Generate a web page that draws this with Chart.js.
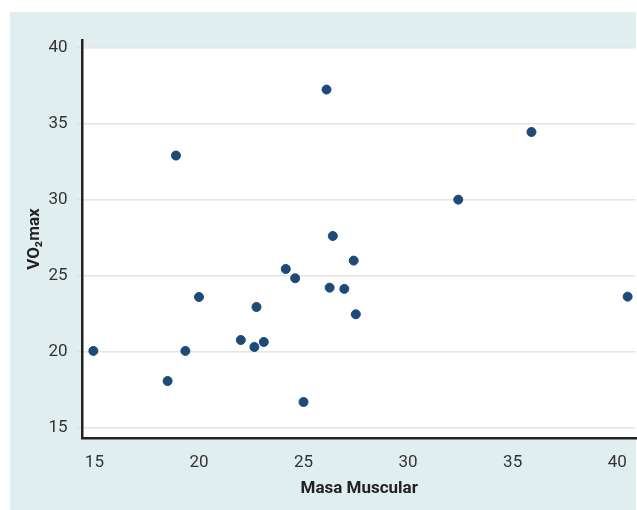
<!DOCTYPE html>
<html>
<head>
<meta charset="utf-8">
<script src="https://cdn.jsdelivr.net/npm/chart.js@4/dist/chart.umd.min.js"></script>
<style>
  html, body { margin: 0; padding: 0; background: #fff; }
  #wrap { width: 637px; height: 510px; }
</style>
</head>
<body>
<div id="wrap"><canvas id="scatterChart" width="637" height="510"></canvas></div>
<script>
// Masa Muscular vs VO2max
var masaMuscular = [14.95, 18.5, 18.9, 19.35, 20.0, 22.0, 22.65, 22.75, 23.1, 24.15, 24.6, 25.0, 26.1, 26.25, 26.4, 26.95, 27.4, 27.5, 32.4, 35.9, 40.5];
var vo2max       = [20.05, 18.07, 32.9, 20.05, 23.6, 20.77, 20.31, 22.94, 20.64, 25.44, 24.83, 16.69, 37.24, 24.21, 27.61, 24.13, 25.99, 22.46, 30.0, 34.45, 23.62];
var xTicks = [15, 20, 25, 30, 35, 40];
var yTicks = [15, 20, 25, 30, 35, 40];

var points = [];
for (var i = 0; i < masaMuscular.length; i++) {
    points.push({ x: masaMuscular[i], y: vo2max[i] });
}

var fontFamily = "'Liberation Sans Narrow', 'Roboto', 'Liberation Sans', sans-serif";

// teal panel + white plot area
var panelBg = {
    id: 'panelBg',
    beforeDraw: function (chart) {
        var c = chart.ctx, a = chart.chartArea;
        c.save();
        c.fillStyle = '#ffffff';
        c.fillRect(0, 0, chart.width, chart.height);
        c.fillStyle = '#e0eeef';
        c.fillRect(10, 12, 626, 498);
        c.fillStyle = '#ffffff';
        c.fillRect(a.left, 47, a.right - a.left, a.bottom - 47);
        c.restore();
    }
};

var ctx = document.getElementById('scatterChart').getContext('2d');
var chart = new Chart(ctx, {
    type: 'scatter',
    data: {
        datasets: [{
            data: points,
            backgroundColor: '#1d4a77',
            borderColor: '#1d4a77',
            pointRadius: 4.5,
            pointHoverRadius: 4.5
        }]
    },
    options: {
        responsive: false,
        animation: false,
        layout: { autoPadding: false, padding: { left: 25, right: 1, top: 40, bottom: 11 } },
        plugins: {
            legend: { display: false },
            tooltip: { enabled: false }
        },
        scales: {
            x: {
                type: 'linear',
                min: 14.43,
                max: 40.9,
                afterBuildTicks: function (axis) {
                    axis.ticks = xTicks.map(function (v) { return { value: v }; });
                },
                afterFit: function (axis) {
                    axis.paddingLeft = 0;
                    axis.paddingRight = 0;
                },
                grid: { display: false, drawTicks: false },
                border: { display: true, color: '#222222', width: 2.5 },
                ticks: {
                    color: '#333333',
                    padding: 14,
                    font: { family: fontFamily, size: 17 }
                },
                title: {
                    display: true,
                    text: 'Masa Muscular',
                    color: '#222222',
                    padding: { top: -8, bottom: 0 },
                    font: { family: fontFamily, size: 17, weight: 'bold' }
                }
            },
            y: {
                type: 'linear',
                min: 14.31,
                max: 40.5,
                afterBuildTicks: function (axis) {
                    axis.ticks = yTicks.map(function (v) { return { value: v }; });
                },
                grid: { color: '#e6e6e6', lineWidth: 1.5, drawTicks: true, tickLength: 6, tickColor: '#e0e0e0' },
                border: { display: true, color: '#222222', width: 2.5 },
                ticks: {
                    color: '#333333',
                    padding: 9,
                    font: { family: fontFamily, size: 17 }
                },
                title: {
                    display: true,
                    text: 'VO₂max',
                    color: '#222222',
                    padding: { top: 0, bottom: -6 },
                    font: { family: fontFamily, size: 17, weight: 'bold' }
                }
            }
        }
    },
    plugins: [panelBg]
});
</script>
</body>
</html>
